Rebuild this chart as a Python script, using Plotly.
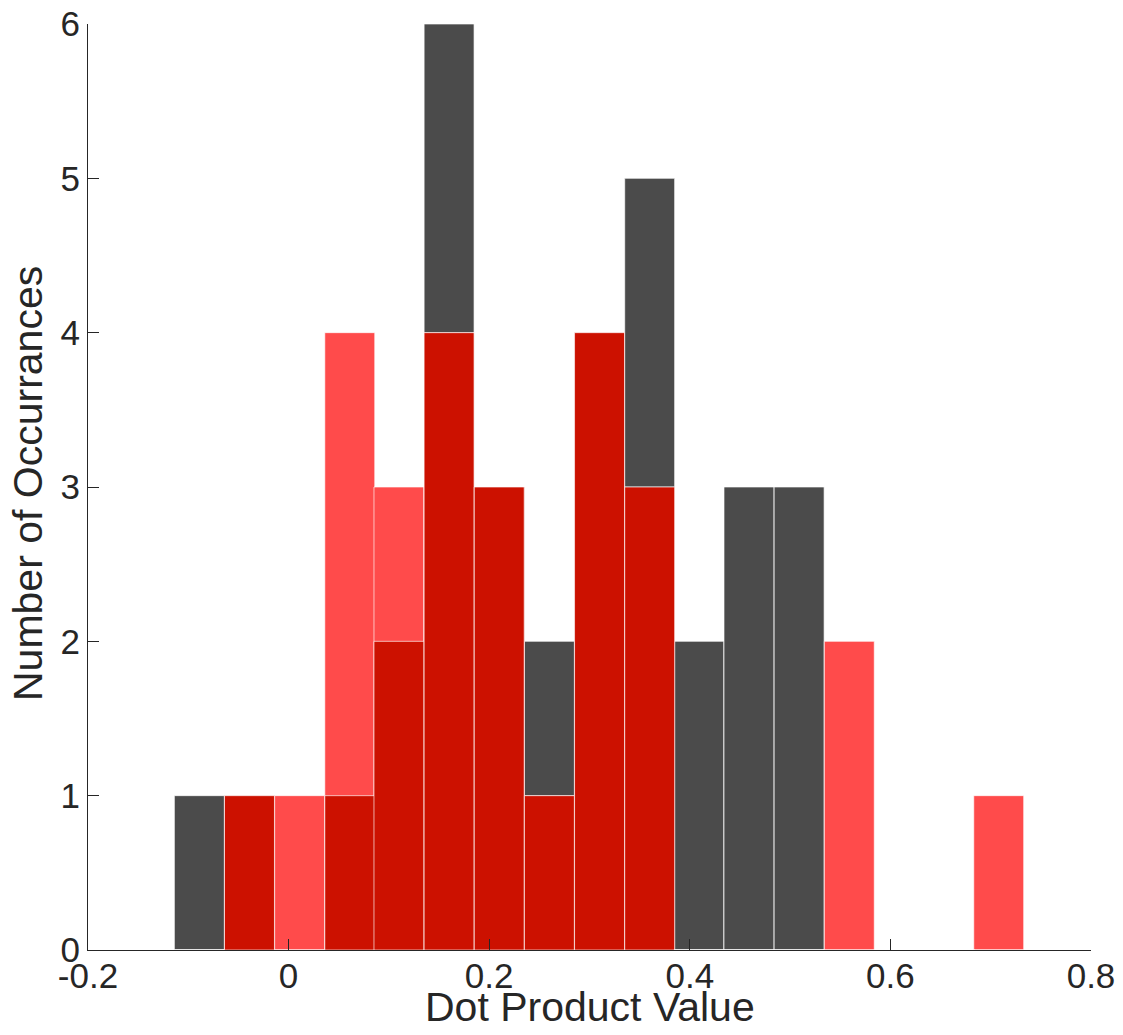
import plotly.graph_objects as go

# Bin centers of the histogram (Dot Product Value)
bin_centers = [-0.089, -0.039, 0.011, 0.061, 0.110, 0.160, 0.210, 0.260, 0.310,
               0.360, 0.409, 0.459, 0.509, 0.559, 0.609, 0.659, 0.708]
bin_width = 0.0498

# Counts per bin for the two distributions
gray_counts = [1, 1, 0, 1, 2, 6, 3, 2, 4, 5, 2, 3, 3, 0, 0, 0, 0]
red_counts = [0, 1, 1, 4, 3, 4, 3, 1, 4, 3, 0, 0, 0, 2, 0, 0, 1]
overlap_counts = [min(g, r) for g, r in zip(gray_counts, red_counts)]

x_ticks = [-0.2, 0, 0.2, 0.4, 0.6, 0.8]
x_tick_labels = ["-0.2", "0", "0.2", "0.4", "0.6", "0.8"]
y_ticks = [0, 1, 2, 3, 4, 5, 6]

x_title = "Dot Product Value"
y_title = "Number of Occurrances"

GRAY = "#4b4b4b"
LIGHT_RED = "#ff4b4b"
DARK_RED = "#cc1100"
EDGE = "rgba(255,255,255,0.65)"
TEXT = "#262626"
FONT = "Liberation Sans, Arial, Helvetica, sans-serif"
TICK_SIZE = 35
TITLE_SIZE = 41

fig = go.Figure()
for counts, color in [(gray_counts, GRAY), (red_counts, LIGHT_RED), (overlap_counts, DARK_RED)]:
    fig.add_trace(go.Bar(
        x=bin_centers, y=counts, width=bin_width,
        marker=dict(color=color, line=dict(color=EDGE, width=1)),
        showlegend=False, hoverinfo="x+y",
    ))

# page body has an 8px margin: figure occupies 8..1115 x 8..1027
fig.update_layout(
    barmode="overlay",
    width=1107, height=1019,
    margin=dict(l=80, r=24, t=16, b=77),
    paper_bgcolor="white", plot_bgcolor="white",
    font=dict(family=FONT, size=TICK_SIZE, color=TEXT),
    annotations=[
        dict(text=x_title, xref="paper", yref="paper", x=0.5, y=0,
             xanchor="center", yanchor="middle", yshift=-57, showarrow=False,
             font=dict(size=TITLE_SIZE, color=TEXT, family=FONT)),
        dict(text=y_title, xref="paper", yref="paper", x=0, y=0.5,
             xanchor="center", yanchor="middle", xshift=-60, yshift=3,
             textangle=-90, showarrow=False,
             font=dict(size=TITLE_SIZE, color=TEXT, family=FONT)),
    ],
)
fig.update_xaxes(
    range=[-0.2, 0.8], tickvals=x_ticks, ticktext=x_tick_labels,
    ticks="inside", ticklen=11, tickcolor=TEXT, tickwidth=1,
    ticklabelstandoff=-5, ticklabeloverflow="allow",
    showline=True, linecolor=TEXT, linewidth=1, mirror=False,
    showgrid=False, zeroline=False, automargin=False,
    tickfont=dict(size=TICK_SIZE, color=TEXT),
)
fig.update_yaxes(
    range=[0, 6], tickvals=y_ticks,
    ticks="inside", ticklen=11, tickcolor=TEXT, tickwidth=1,
    ticklabeloverflow="allow",
    showline=True, linecolor=TEXT, linewidth=1, mirror=False,
    showgrid=False, zeroline=False, automargin=False,
    tickfont=dict(size=TICK_SIZE, color=TEXT),
)

fig.write_html("out.html")
